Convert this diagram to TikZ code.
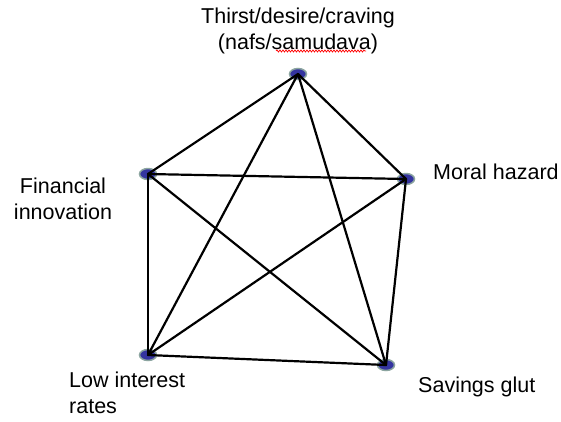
\documentclass[tikz,border=0pt]{standalone}
\usepackage{fontspec}
\setmainfont{Liberation Sans}
\usetikzlibrary{shapes.geometric,decorations.pathmorphing}
\definecolor{vfill}{RGB}{52,52,160}
\definecolor{vrim}{RGB}{140,165,160}
\tikzset{
	vtx/.style={ellipse, fill=vfill, draw=vrim, line width=1.5pt, minimum width=17pt, minimum height=11pt, inner sep=0pt},
	lbl/.style={font=\fontsize{21.5}{26}\selectfont, inner sep=0pt},
	link/.style={line width=2.2pt, line cap=round}
}
\begin{document}
\begin{tikzpicture}[x=1pt,y=-1pt]
	\useasboundingbox (0,0) rectangle (561,421);				% Margens
	
	% Vertices
	\node[vtx] (nafs) at (298,74) {};
	\node[vtx] (innov) at (148,174) {};
	\node[vtx] (moral) at (406,179) {};
	\node[vtx] (rates) at (148,355) {};
	\node[vtx] (glut) at (386,365) {};
	
	% Rotulos
	\node[lbl, align=center] (nafslbl) at (298,31) {Thirst/desire/craving\\(nafs/samudava)};
	\node[lbl, anchor=west] (morallbl) at (433,172) {Moral hazard};
	\node[lbl, align=center] (innovlbl) at (63,199) {Financial\\innovation};
	\node[lbl, align=left, anchor=north west] (rateslbl) at (69,372) {Low interest\\rates};
	\node[lbl, anchor=west] (glutlbl) at (418,387) {Savings glut};
	\draw[red, line width=0.7pt, decorate, decoration={snake, amplitude=1pt, segment length=3pt}] (276,51) -- (366,51);	% Sublinhado
	
	% Arestas
	\draw[link] (nafs.center) -- (innov.center);
	\draw[link] (nafs.center) -- (moral.center);
	\draw[link] (nafs.center) -- (rates.center);
	\draw[link] (nafs.center) -- (glut.center);
	\draw[link] (innov.center) -- (moral.center);
	\draw[link] (innov.center) -- (rates.center);
	\draw[link] (innov.center) -- (glut.center);
	\draw[link] (moral.center) -- (rates.center);
	\draw[link] (moral.center) -- (glut.center);
	\draw[link] (rates.center) -- (glut.center);
\end{tikzpicture}
\end{document}
